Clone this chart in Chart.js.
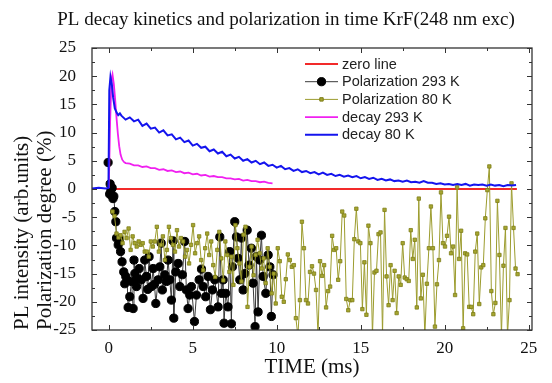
<!DOCTYPE html>
<html>
<head>
<meta charset="utf-8">
<script src="https://cdn.jsdelivr.net/npm/chart.js@4.4.1/dist/chart.umd.min.js"></script>
<style>
  html, body { margin: 0; padding: 0; background: #fff; }
  #wrap { width: 552px; height: 383px; }
</style>
</head>
<body>
<div id="wrap"><canvas id="plChart" width="552" height="383"></canvas></div>
<script>
// time in ms, values as [time, value]
const zeroLine = [[0, 0], [24.3, 0]];

const pol293K = [
  [-0.04, 4.7], [0.05, -0.9], [0.08, 0.9], [0.12, -0.3], [0.16, -1.1], [0.20, 0.2], [0.25, -1.7], [0.30, -1.3],
  [0.36, -4.0], [0.42, -5.8], [0.46, -8.7], [0.56, -9.9], [0.64, -8.9], [0.70, -11.1], [0.79, -12.9], [0.89, -14.7],
  [0.95, -16.8], [1.01, -15.5], [1.09, -16.1], [1.15, -21.0], [1.25, -19.1], [1.35, -16.4], [1.45, -21.2], [1.50, -12.6],
  [1.55, -15.0], [1.65, -17.3], [1.73, -15.9], [1.81, -14.1], [1.94, -16.1], [2.04, -19.4], [2.14, -12.6], [2.24, -15.5],
  [2.32, -17.8], [2.40, -12.0], [2.54, -17.3], [2.64, -14.1], [2.72, -16.9], [2.80, -20.3], [2.94, -16.1], [3.04, -13.8],
  [3.12, -9.6], [3.19, -17.9], [3.33, -15.2], [3.43, -16.4], [3.53, -12.6], [3.63, -16.1], [3.73, -19.7], [3.83, -9.2],
  [3.87, -22.9], [3.99, -14.7], [4.13, -13.2], [4.23, -17.3], [4.38, -15.2], [4.52, -9.3], [4.62, -17.9], [4.72, -21.2],
  [4.82, -18.8], [4.92, -17.3], [5.10, -23.5], [5.22, -18.8], [5.38, -16.1], [5.52, -14.2], [5.62, -17.3], [5.77, -19.1],
  [5.91, -15.5], [6.05, -21.4], [6.17, -17.9], [6.31, -16.1], [6.51, -20.9], [6.61, -8.5], [6.71, -18.5], [6.81, -16.1],
  [6.86, -23.8], [6.96, -18.5], [7.10, -20.9], [7.20, -11.1], [7.30, -23.9], [7.36, -13.8], [7.50, -5.8], [7.60, -8.5],
  [7.70, -12.3], [7.80, -16.1], [7.90, -8.7], [8.00, -17.9], [8.10, -15.0], [8.24, -7.3], [8.35, -13.5], [8.49, -10.5],
  [8.59, -16.7], [8.71, -24.4], [8.79, -12.0], [8.89, -21.8], [8.99, -12.6], [9.09, -8.2], [9.19, -15.5], [9.35, -18.5],
  [9.49, -11.7], [9.59, -13.8], [9.68, -22.6], [9.78, -15.2]
];

const pol80K = [
  [0.22, -4.0], [0.34, -4.8], [0.46, -7.9], [0.58, -8.6], [0.70, -8.2], [0.82, -9.6], [0.94, -7.6], [1.06, -8.7],
  [1.18, -7.0], [1.30, -10.8], [1.42, -8.4], [1.54, -9.6], [1.66, -10.2], [1.78, -9.3], [1.90, -9.9], [2.02, -9.6],
  [2.14, -11.1], [2.26, -11.1], [2.38, -12.0], [2.50, -9.3], [2.62, -10.2], [2.74, -9.3], [2.86, -6.7], [2.98, -11.1],
  [3.10, -9.9], [3.22, -8.4], [3.34, -12.6], [3.46, -10.8], [3.58, -6.7], [3.70, -8.7], [3.82, -9.9], [3.94, -11.1],
  [4.06, -7.3], [4.18, -10.2], [4.30, -8.7], [4.42, -9.3], [4.54, -12.0], [4.66, -10.8], [4.78, -13.2], [4.90, -9.9],
  [5.02, -6.4], [5.14, -11.4], [5.26, -9.6], [5.38, -8.4], [5.50, -12.6], [5.62, -14.4], [5.74, -10.5], [5.86, -7.9],
  [5.98, -11.7], [6.10, -9.3], [6.22, -13.5], [6.34, -15.6], [6.46, -10.8], [6.58, -7.6], [6.70, -12.3], [6.82, -16.2],
  [6.94, -9.3], [7.06, -11.7], [7.18, -14.7], [7.30, -12.0], [7.42, -17.0], [7.54, -6.4], [7.66, -10.5], [7.78, -13.2],
  [7.90, -16.4], [8.02, -8.1], [8.14, -6.7], [8.26, -20.9], [8.38, -13.8], [8.50, -10.2], [8.62, -15.3], [8.74, -11.7],
  [8.86, -9.0], [8.98, -11.4], [9.10, -14.1], [9.22, -12.3], [9.34, -16.7], [9.46, -10.5], [9.58, -13.8], [9.70, -18.5],
  [9.82, -15.0], [9.94, -20.3], [10.06, -10.5], [10.18, -12.8], [10.30, -19.1], [10.42, -20.0], [10.54, -16.0], [10.66, -11.6],
  [10.78, -12.6], [10.90, -13.8], [11.02, -13.5], [11.14, -22.9], [11.26, -26.0], [11.38, -19.7], [11.50, -5.8], [11.62, -10.5],
  [11.74, -19.7], [11.86, -20.3], [11.98, -14.7], [12.10, -13.7], [12.22, -15.0], [12.34, -17.9], [12.46, -26.0], [12.58, -12.8],
  [12.70, -15.4], [12.82, -13.5], [12.94, -21.0], [13.06, -18.1], [13.18, -17.3], [13.30, -8.3], [13.42, -10.8], [13.54, -10.5],
  [13.66, -16.1], [13.78, -12.8], [13.90, -4.0], [14.02, -4.7], [14.14, -19.5], [14.26, -21.5], [14.38, -19.7], [14.50, -19.7],
  [14.62, -8.9], [14.74, -3.5], [14.86, -9.3], [14.98, -9.6], [15.10, -21.3], [15.22, -13.0], [15.34, -22.3], [15.46, -6.5],
  [15.58, -9.6], [15.70, -26.0], [15.82, -14.8], [15.94, -14.5], [16.06, -8.0], [16.18, -7.7], [16.30, -26.0], [16.42, -3.7],
  [16.54, -15.5], [16.66, -20.6], [16.78, -13.5], [16.90, -19.7], [17.02, -14.5], [17.14, -22.0], [17.26, -15.5], [17.38, -17.0],
  [17.50, -9.6], [17.62, -15.7], [17.74, -16.0], [17.86, -16.3], [17.98, -7.3], [18.10, -12.4], [18.22, -9.0], [18.34, -21.0],
  [18.46, -1.7], [18.58, -19.4], [18.70, -15.2], [18.82, -26.0], [18.94, -16.8], [19.06, -10.5], [19.18, -3.1], [19.30, -10.5],
  [19.42, -24.4], [19.54, -16.9], [19.66, -12.6], [19.78, -0.6], [19.90, -9.6], [20.02, -10.2], [20.14, -8.3], [20.26, -4.9],
  [20.38, -11.4], [20.50, -10.2], [20.62, -18.8], [20.74, 0.3], [20.86, -12.4], [20.98, -7.4], [21.10, -24.7], [21.22, -11.4],
  [21.34, -11.6], [21.46, -20.9], [21.58, -20.9], [21.70, -22.2], [21.82, -11.1], [21.94, -7.9], [22.06, -20.4], [22.18, -13.9],
  [22.30, -13.5], [22.42, -5.2], [22.54, -0.2], [22.66, 4.0], [22.78, -18.1], [22.90, -22.2], [23.02, -20.2], [23.14, -2.1],
  [23.26, -11.7], [23.38, -26.0], [23.50, -13.6], [23.62, -6.9], [23.74, -26.0], [23.86, -19.7], [23.98, 1.0], [24.10, -6.9],
  [24.22, -14.1], [24.34, -15.1]
];

const decay293K = [
  [0.0, 0.2], [0.08, 12.0], [0.16, 19.5], [0.22, 20.3], [0.30, 18.6], [0.38, 15.8], [0.46, 12.6], [0.54, 9.8],
  [0.62, 7.6], [0.70, 6.1], [0.80, 5.2], [0.90, 4.8], [1.0, 4.6], [1.25, 4.5], [1.5, 4.2], [1.75, 4.2],
  [2.0, 3.9], [2.25, 4.0], [2.5, 3.7], [2.75, 3.7], [3.0, 3.4], [3.25, 3.5], [3.5, 3.2], [3.75, 3.3],
  [4.0, 3.0], [4.25, 3.1], [4.5, 2.8], [4.75, 2.9], [5.0, 2.6], [5.25, 2.7], [5.5, 2.4], [5.75, 2.5],
  [6.0, 2.2], [6.25, 2.3], [6.5, 2.1], [6.75, 2.1], [7.0, 1.9], [7.25, 1.9], [7.5, 1.7], [7.75, 1.8],
  [8.0, 1.5], [8.25, 1.6], [8.5, 1.4], [8.75, 1.4], [9.0, 1.2], [9.25, 1.3], [9.5, 1.1], [9.75, 1.0]
];

const decay80K = [
  [-1.0, 0.1], [-0.6, 0.2], [-0.2, 0.1], [-0.02, 0.2], [0.03, 17.5], [0.1, 19.9], [0.18, 18.6], [0.26, 16.2],
  [0.36, 14.3], [0.46, 13.6], [0.56, 13.1], [0.66, 13.4], [0.75, 13.0], [1.0, 12.3], [1.25, 12.7], [1.5, 12.0],
  [1.75, 12.3], [2.0, 11.2], [2.25, 11.6], [2.5, 10.7], [2.75, 10.9], [3.0, 10.0], [3.25, 10.4], [3.5, 9.5],
  [3.75, 9.7], [4.0, 8.8], [4.25, 9.1], [4.5, 8.3], [4.75, 8.6], [5.0, 7.7], [5.25, 8.0], [5.5, 7.3],
  [5.75, 7.5], [6.0, 6.7], [6.25, 7.0], [6.5, 6.3], [6.75, 6.6], [7.0, 5.8], [7.25, 6.1], [7.5, 5.4],
  [7.75, 5.7], [8.0, 5.0], [8.25, 5.3], [8.5, 4.7], [8.75, 5.0], [9.0, 4.4], [9.25, 4.7], [9.5, 4.1],
  [9.75, 4.3], [10.0, 3.8], [10.25, 4.1], [10.5, 3.5], [10.75, 3.7], [11.0, 3.2], [11.25, 3.5], [11.5, 3.0],
  [11.75, 3.2], [12.0, 2.8], [12.25, 3.0], [12.5, 2.6], [12.75, 2.9], [13.0, 2.5], [13.25, 2.7], [13.5, 2.3],
  [13.75, 2.5], [14.0, 2.2], [14.25, 2.4], [14.5, 2.1], [14.75, 2.3], [15.0, 1.9], [15.25, 2.1], [15.5, 1.8],
  [15.75, 2.0], [16.0, 1.6], [16.25, 1.8], [16.5, 1.5], [16.75, 1.7], [17.0, 1.4], [17.25, 1.5], [17.5, 1.3],
  [17.75, 1.5], [18.0, 1.2], [18.25, 1.3], [18.5, 1.1], [18.75, 1.4], [19.0, 1.1], [19.25, 1.1], [19.5, 0.9],
  [19.75, 1.0], [20.0, 0.8], [20.25, 0.9], [20.5, 0.7], [20.75, 0.9], [21.0, 0.7], [21.25, 0.9], [21.5, 0.6],
  [21.75, 0.8], [22.0, 0.7], [22.25, 0.8], [22.5, 0.6], [22.75, 0.8], [23.0, 0.6], [23.25, 0.7], [23.5, 0.5],
  [23.75, 0.7], [24.0, 0.6], [24.25, 0.7]
];

const seriesNames = ['zero line', 'Polarization 293 K', 'Polarization 80 K', 'decay 293 K', 'decay 80 K'];
const yTicks = [-25, 25, 5];
const xTicks = [-1, 25.2, 5];

const serif = "'Liberation Serif', 'Times New Roman', serif";
const toXY = arr => arr.map(([x, y]) => ({x, y}));

// inward ticks on all four sides plus the box
const frameTicks = {
    id: 'frameTicks',
    afterDatasetsDraw(chart) {
        const {ctx, chartArea: a, scales} = chart;
        ctx.save();
        ctx.strokeStyle = '#333';
        ctx.lineWidth = 1.3;
        ctx.strokeRect(a.left, a.top, a.right - a.left, a.bottom - a.top);
        ctx.lineWidth = 1;
        ctx.beginPath();
        for (let v = 0; v <= xTicks[1]; v += 2.5) {
            const px = Math.round(scales.x.getPixelForValue(v)) + 0.5;
            const len = v % 5 === 0 ? 5 : 3;
            ctx.moveTo(px, a.bottom); ctx.lineTo(px, a.bottom - len);
            ctx.moveTo(px, a.top); ctx.lineTo(px, a.top + len);
        }
        for (let v = yTicks[0]; v <= yTicks[1]; v += 2.5) {
            const py = Math.round(scales.y.getPixelForValue(v)) + 0.5;
            const len = v % 5 === 0 ? 5 : 3;
            ctx.moveTo(a.left, py); ctx.lineTo(a.left + len, py);
            ctx.moveTo(a.right, py); ctx.lineTo(a.right - len, py);
        }
        ctx.stroke();
        ctx.restore();
    }
};

// legend with line + marker samples like the original
const lineLegend = {
    id: 'lineLegend',
    afterDraw(chart) {
        const {ctx, chartArea: a} = chart;
        const x0 = a.left + 213, x1 = a.left + 246, y0 = a.top + 16;
        ctx.save();
        ctx.font = "14.5px 'Liberation Sans', Arial, sans-serif";
        ctx.textBaseline = 'middle';
        chart.data.datasets.forEach((ds, i) => {
            const yy = y0 + i * 17.7;
            ctx.strokeStyle = ds.borderColor;
            ctx.lineWidth = ds.borderWidth;
            ctx.beginPath();
            ctx.moveTo(x0, yy);
            ctx.lineTo(x1, yy);
            ctx.stroke();
            if (ds.pointRadius > 0) {
                ctx.fillStyle = ds.pointBackgroundColor;
                ctx.strokeStyle = ds.pointBorderColor;
                Chart.helpers.drawPoint(ctx, {
                    pointStyle: ds.pointStyle, radius: ds.pointRadius, rotation: 0, borderWidth: ds.pointBorderWidth
                }, (x0 + x1) / 2, yy);
            }
            ctx.fillStyle = '#222';
            ctx.fillText(ds.label, x1 + 4, yy + 0.5);
        });
        ctx.restore();
    }
};

const ctx = document.getElementById('plChart').getContext('2d');
const chart = new Chart(ctx, {
    type: 'scatter',
    data: {
        datasets: [{
            label: seriesNames[0],
            data: toXY(zeroLine),
            showLine: true,
            borderColor: '#f22a2a',
            borderWidth: 1.8,
            pointRadius: 0,
            order: 5
        }, {
            label: seriesNames[1],
            data: toXY(pol293K),
            showLine: true,
            borderColor: '#3a3a3a',
            borderWidth: 1,
            pointStyle: 'circle',
            pointRadius: 4.1,
            pointBackgroundColor: '#000',
            pointBorderColor: '#000',
            pointBorderWidth: 1,
            clip: 0,
            order: 4
        }, {
            label: seriesNames[2],
            data: toXY(pol80K),
            showLine: true,
            borderColor: '#9c9c2e',
            borderWidth: 1,
            pointStyle: 'rect',
            pointRadius: 2.4,
            pointBackgroundColor: '#a6a630',
            pointBorderColor: '#7d7d18',
            pointBorderWidth: 0.8,
            clip: 0,
            order: 3
        }, {
            label: seriesNames[3],
            data: toXY(decay293K),
            showLine: true,
            borderColor: '#f020f0',
            borderWidth: 1.8,
            pointRadius: 0,
            order: 2
        }, {
            label: seriesNames[4],
            data: toXY(decay80K),
            showLine: true,
            borderColor: '#1414ee',
            borderWidth: 2,
            pointRadius: 0,
            order: 1
        }]
    },
    options: {
        responsive: false,
        animation: false,
        devicePixelRatio: 1,
        layout: { padding: { left: 40, right: 20, top: 0, bottom: 0 } },
        plugins: {
            legend: { display: false },
            tooltip: { enabled: false },
            title: {
                display: true,
                text: 'PL decay kinetics and polarization in time KrF(248 nm exc)',
                color: '#111',
                font: { family: serif, size: 19, weight: 'normal', lineHeight: 1.2 },
                padding: { top: 8.6, bottom: 16.6 }
            }
        },
        scales: {
            x: {
                type: 'linear',
                min: xTicks[0],
                max: xTicks[1],
                grid: { display: false },
                border: { display: false },
                ticks: {
                    stepSize: xTicks[2],
                    includeBounds: false,
                    color: '#111',
                    padding: 0,
                    font: { family: serif, size: 17 }
                },
                title: {
                    display: true,
                    text: 'TIME (ms)',
                    color: '#111',
                    font: { family: serif, size: 21, lineHeight: 1.2 },
                    padding: { top: 0, bottom: 3 }
                },
                afterFit(scale) { scale.height = 53; }
            },
            y: {
                type: 'linear',
                min: yTicks[0],
                max: yTicks[1],
                grid: { display: false },
                border: { display: false },
                ticks: {
                    stepSize: yTicks[2],
                    color: '#111',
                    padding: 8,
                    font: { family: serif, size: 17 }
                },
                title: {
                    display: true,
                    text: ['PL intensity (arb.units)', 'Polarization degree (%)'],
                    align: 'start',
                    color: '#111',
                    font: { family: serif, size: 21, lineHeight: 1.1 },
                    padding: { top: -29, bottom: 0 }
                },
                afterFit(scale) { scale.width = 52; }
            }
        }
    },
    plugins: [frameTicks, lineLegend]
});
</script>
</body>
</html>
